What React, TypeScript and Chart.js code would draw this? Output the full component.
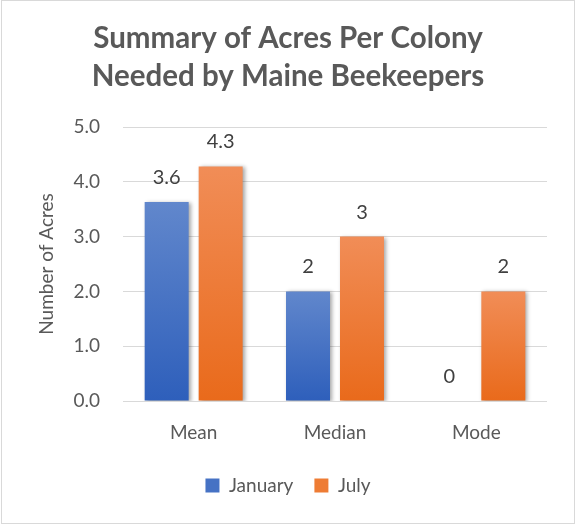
import React, { useEffect, useRef } from "react";
import { Chart, registerables } from "chart.js";

Chart.register(...registerables);

const categories = ["Mean", "Median", "Mode"];
const january = [3.63, 2, 0];
const july = [4.28, 3, 2];
const seriesNames = ["January", "July"];
const titleLines = ["Summary of Acres Per Colony", "Needed by Maine Beekeepers"];
const yAxisTitle = "Number of Acres";

const FONT = "Lato, 'Open Sans', sans-serif";
const TEXT = "#595959";
const GRID = "#d9d9d9";
const GRADS = [
  ["#6187cc", "#2e5fbb"],
  ["#f18d57", "#e96a1b"],
];
const LEGEND_COLORS = ["#4672c4", "#ee7c34"];

function fmt(v: number) {
  return Number.isInteger(v) ? String(v) : v.toFixed(1);
}

export default function App() {
  const ref = useRef<HTMLCanvasElement | null>(null);
  useEffect(() => {
    document.body.style.margin = "0";
    const canvas = ref.current!;
    const grad = (i: number) => (ctx: any) => {
      const chart = ctx.chart;
      const solid = LEGEND_COLORS[i];
      if (!chart.chartArea || ctx.type !== "data") return solid;
      const y = chart.scales.y;
      const v = ctx.raw as number;
      const top = y.getPixelForValue(v);
      const bottom = y.getPixelForValue(0);
      if (bottom - top < 1) return solid;
      const g = chart.ctx.createLinearGradient(0, top, 0, bottom);
      g.addColorStop(0, GRADS[i][0]);
      g.addColorStop(1, GRADS[i][1]);
      return g;
    };
    const framePlugin = {
      id: "frame",
      beforeDraw(chart: any) {
        const c = chart.ctx;
        c.save();
        c.fillStyle = "#ffffff";
        c.fillRect(0, 0, chart.width, chart.height);
        c.strokeStyle = GRID;
        c.lineWidth = 1;
        c.strokeRect(1.5, 0.5, chart.width - 3, chart.height - 4);
        c.restore();
      },
    };
    const shadowPlugin = {
      id: "shadow",
      beforeDatasetsDraw(chart: any) {
        const c = chart.ctx;
        c.save();
        c.shadowColor = "rgba(0,0,0,0.35)";
        c.shadowBlur = 4;
        c.shadowOffsetX = 2;
        c.shadowOffsetY = 1;
      },
      afterDatasetsDraw(chart: any) {
        chart.ctx.restore();
      },
    };
    const labelPlugin = {
      id: "valueLabels",
      afterDraw(chart: any) {
        const c = chart.ctx;
        c.save();
        c.font = `20px ${FONT}`;
        c.fillStyle = "#404040";
        c.textAlign = "center";
        c.textBaseline = "alphabetic";
        chart.data.datasets.forEach((ds: any, di: number) => {
          const meta = chart.getDatasetMeta(di);
          meta.data.forEach((bar: any, i: number) => {
            c.fillText(fmt(ds.data[i]), bar.x, bar.y - 18);
          });
        });
        c.restore();
      },
    };
    const chart = new Chart(canvas, {
      type: "bar",
      data: {
        labels: categories,
        datasets: [
          { label: seriesNames[0], data: january, backgroundColor: grad(0), borderWidth: 0 },
          { label: seriesNames[1], data: july, backgroundColor: grad(1), borderWidth: 0 },
        ],
      },
      options: {
        animation: false,
        responsive: false,
        devicePixelRatio: 1,
        categoryPercentage: 0.764,
        barPercentage: 0.815,
        layout: { padding: { top: 0, left: 29, right: 29, bottom: 22 } },
        plugins: {
          title: {
            display: true,
            text: titleLines,
            color: TEXT,
            font: { family: FONT, size: 29.5, weight: "bold", lineHeight: 38 / 29.5 },
            padding: { top: 19, bottom: 32 },
          },
          legend: {
            display: true,
            position: "bottom",
            labels: {
              boxWidth: 14,
              boxHeight: 14,
              padding: 21,
              color: TEXT,
              font: { family: FONT, size: 19 },
              generateLabels: (ch: any) =>
                ch.data.datasets.map((ds: any, i: number) => ({
                  text: ds.label,
                  fillStyle: LEGEND_COLORS[i],
                  strokeStyle: LEGEND_COLORS[i],
                  lineWidth: 0,
                  hidden: false,
                  datasetIndex: i,
                  fontColor: TEXT,
                })),
            },
          },
          tooltip: { enabled: false },
        },
        scales: {
          x: {
            grid: { display: false, drawTicks: false },
            border: { display: false },
            ticks: { color: TEXT, font: { family: FONT, size: 19 }, padding: 20 },
            afterFit: (s: any) => {
              s.height = 54;
            },
          },
          y: {
            min: 0,
            max: 5,
            grid: { color: GRID, lineWidth: 1, drawTicks: false },
            border: { display: false },
            ticks: {
              stepSize: 1,
              color: TEXT,
              font: { family: FONT, size: 19 },
              padding: 23,
              callback: (v: any) => Number(v).toFixed(1),
            },
            title: {
              display: true,
              text: yAxisTitle,
              color: TEXT,
              font: { family: FONT, size: 19 },
              padding: { top: 6, bottom: 0 },
            },
            afterFit: (s: any) => {
              s.width = 94;
            },
          },
        },
      },
      plugins: [framePlugin, shadowPlugin, labelPlugin],
    });
    return () => chart.destroy();
  }, []);
  return (
    <div style={{ width: 576, height: 527 }}>
      <canvas ref={ref} width={576} height={527} style={{ display: "block", width: 576, height: 527 }} />
    </div>
  );
}
